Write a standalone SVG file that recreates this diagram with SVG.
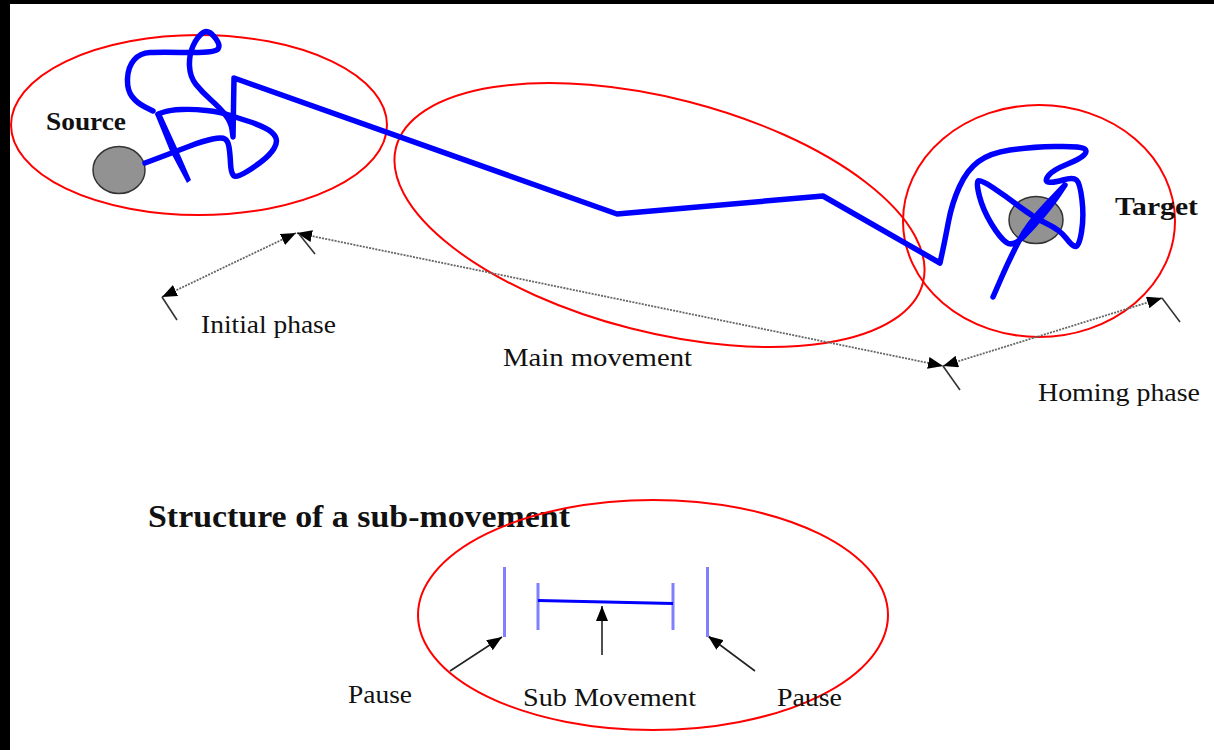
<svg xmlns="http://www.w3.org/2000/svg" width="1214" height="750" viewBox="0 0 1214 750">
<defs>
<style>
.ell{fill:none;stroke:#ff0000;stroke-width:2}
.blue{fill:none;stroke:#0000ff;stroke-width:5.5;stroke-linecap:round;stroke-linejoin:round}
.dim{fill:none;stroke:#666;stroke-width:1.8;stroke-dasharray:2 1.2}
.tick{stroke:#333;stroke-width:1.6}
.arr{stroke:#222;stroke-width:1.6}
.ball{fill:#929292;stroke:#333;stroke-width:1.5}
.t{font-family:"Liberation Serif","Times New Roman",serif;font-size:26px;fill:#111}
.b{font-weight:bold}
.bar{stroke:#7f7fff;stroke-width:3}
</style>
<marker id="ah" markerUnits="userSpaceOnUse" markerWidth="16" markerHeight="12" refX="15" refY="6" orient="auto-start-reverse">
<path d="M0,0 L15,6 L0,12 z" fill="#000"/>
</marker>
</defs>
<rect x="0" y="0" width="1214" height="750" fill="#fff"/>
<rect x="0" y="0" width="1214" height="4" fill="#000"/>
<rect x="0" y="0" width="10" height="750" fill="#000"/>

<g id="source-node">
<ellipse class="ell" cx="199" cy="125" rx="188" ry="90"/>
<ellipse class="ball" cx="119" cy="170" rx="26" ry="23.5"/>
<text class="t b" x="46" y="130" textLength="80" lengthAdjust="spacingAndGlyphs">Source</text>
</g>
<g id="main-node">
<ellipse class="ell" cx="659.5" cy="215" rx="272" ry="117" transform="rotate(14.4 659.5 215)"/>
</g>
<g id="target-node">
<ellipse class="ell" cx="1039" cy="221" rx="136" ry="116"/>
<ellipse class="ball" cx="1036" cy="220" rx="27" ry="23.5"/>
<text class="t b" x="1115" y="215" textLength="83" lengthAdjust="spacingAndGlyphs">Target</text>
</g>

<g id="trajectory">
<path class="blue" d="M145,163 L161,157 Q177,151 190,146 Q203,141 212.5,139 Q222,137 225,139 Q228,141 229,147 Q230,153 230.5,163 Q231,173 233.5,175.5 Q236,178 244.5,173 Q253,168 261.5,161.5 Q270,155 274,148.5 Q278,142 275.5,137 Q273,132 265,128 Q257,124 247.5,121 Q238,118 229,115 Q220,112 206.5,110.5 Q193,109 181.5,109.5 Q170,110 164,112 L158,114"/>
<polygon points="155,114 161,113 177,148 191,180 187,183 170,151" fill="#0000ff"/>
<path class="blue" d="M153,111 L145,107 Q137,103 132,96.5 Q127,90 127.5,78.5 Q128,67 134,60 Q140,53 150,52.5 Q160,52 187.5,52.5 Q215,53 218,49 Q221,45 214.5,37 Q208,29 202.5,33 Q197,37 193,46 Q189,55 189.5,66 Q190,77 196,84.5 Q202,92 211,100 Q220,108 225.5,115 Q231,122 232,129.5 L233,137 L234,78 L617,214 L823,196 L940,263 L942.5,251.5 Q945,240 948.5,221.5 Q952,203 959.5,186.5 Q967,170 978.5,161.5 Q990,153 1010,150 Q1030,147 1055,146.5 Q1080,146 1084,148.5 Q1088,151 1084,155 Q1080,159 1066.5,164.5 Q1053,170 1048.5,175.5 Q1044,181 1048.5,182 Q1053,183 1063,180 Q1073,177 1076.5,180 Q1080,183 1082,200 Q1084,217 1081.5,232 Q1079,247 1075.5,246.5 Q1072,246 1066,238 Q1060,230 1046.5,223.5 Q1033,217 1020,207 Q1007,197 993.5,188 Q980,179 978,181 Q976,183 979.5,196.5 Q983,210 991.5,224 Q1000,238 1006.5,242.5 Q1013,247 1023,237 Q1033,227 1043,215 Q1053,203 1059,194 L1065,185 L1046.5,204.5 Q1028,224 1019,241 Q1010,258 1001.5,277.5 L993,297"/>
</g>

<g id="connectors">
<line class="dim" x1="162" y1="297" x2="296" y2="233" marker-start="url(#ah)" marker-end="url(#ah)"/>
<line class="dim" x1="297" y1="233" x2="943" y2="366" marker-start="url(#ah)" marker-end="url(#ah)"/>
<line class="dim" x1="943" y1="366" x2="1162" y2="298" marker-start="url(#ah)" marker-end="url(#ah)"/>
<line class="tick" x1="162" y1="297" x2="177" y2="320"/>
<line class="tick" x1="299" y1="234" x2="315" y2="254"/>
<line class="tick" x1="943" y1="366" x2="960" y2="390"/>
<line class="tick" x1="1162" y1="298" x2="1180" y2="322"/>
<line class="arr" x1="602" y1="655" x2="602" y2="606" marker-end="url(#ah)"/>
<line class="arr" x1="450" y1="671" x2="502" y2="637" marker-end="url(#ah)"/>
<line class="arr" x1="755" y1="671" x2="708" y2="636" marker-end="url(#ah)"/>
</g>

<g id="labels">
<text class="t" x="201" y="333" textLength="135" lengthAdjust="spacingAndGlyphs">Initial phase</text>
<text class="t" x="503" y="366" textLength="189" lengthAdjust="spacingAndGlyphs">Main movement</text>
<text class="t" x="1038" y="401" textLength="162" lengthAdjust="spacingAndGlyphs">Homing phase</text>
</g>

<g id="sub-movement">
<text class="t b" x="148" y="527" style="font-size:31px" textLength="422" lengthAdjust="spacingAndGlyphs">Structure of a sub-movement</text>
<ellipse class="ell" cx="653" cy="615" rx="235" ry="115"/>
<line class="bar" x1="504.5" y1="567" x2="504.5" y2="637"/>
<line class="bar" x1="707.5" y1="567" x2="707.5" y2="637"/>
<line class="bar" x1="538" y1="583" x2="538" y2="630"/>
<line class="bar" x1="673" y1="583" x2="673" y2="630"/>
<path d="M538,600.5 L673,603.5" stroke="#0000ff" stroke-width="3" fill="none"/>
<text class="t" x="348" y="703" textLength="64" lengthAdjust="spacingAndGlyphs">Pause</text>
<text class="t" x="523" y="706" textLength="173" lengthAdjust="spacingAndGlyphs">Sub Movement</text>
<text class="t" x="777" y="706" textLength="65" lengthAdjust="spacingAndGlyphs">Pause</text>
</g>
</svg>
